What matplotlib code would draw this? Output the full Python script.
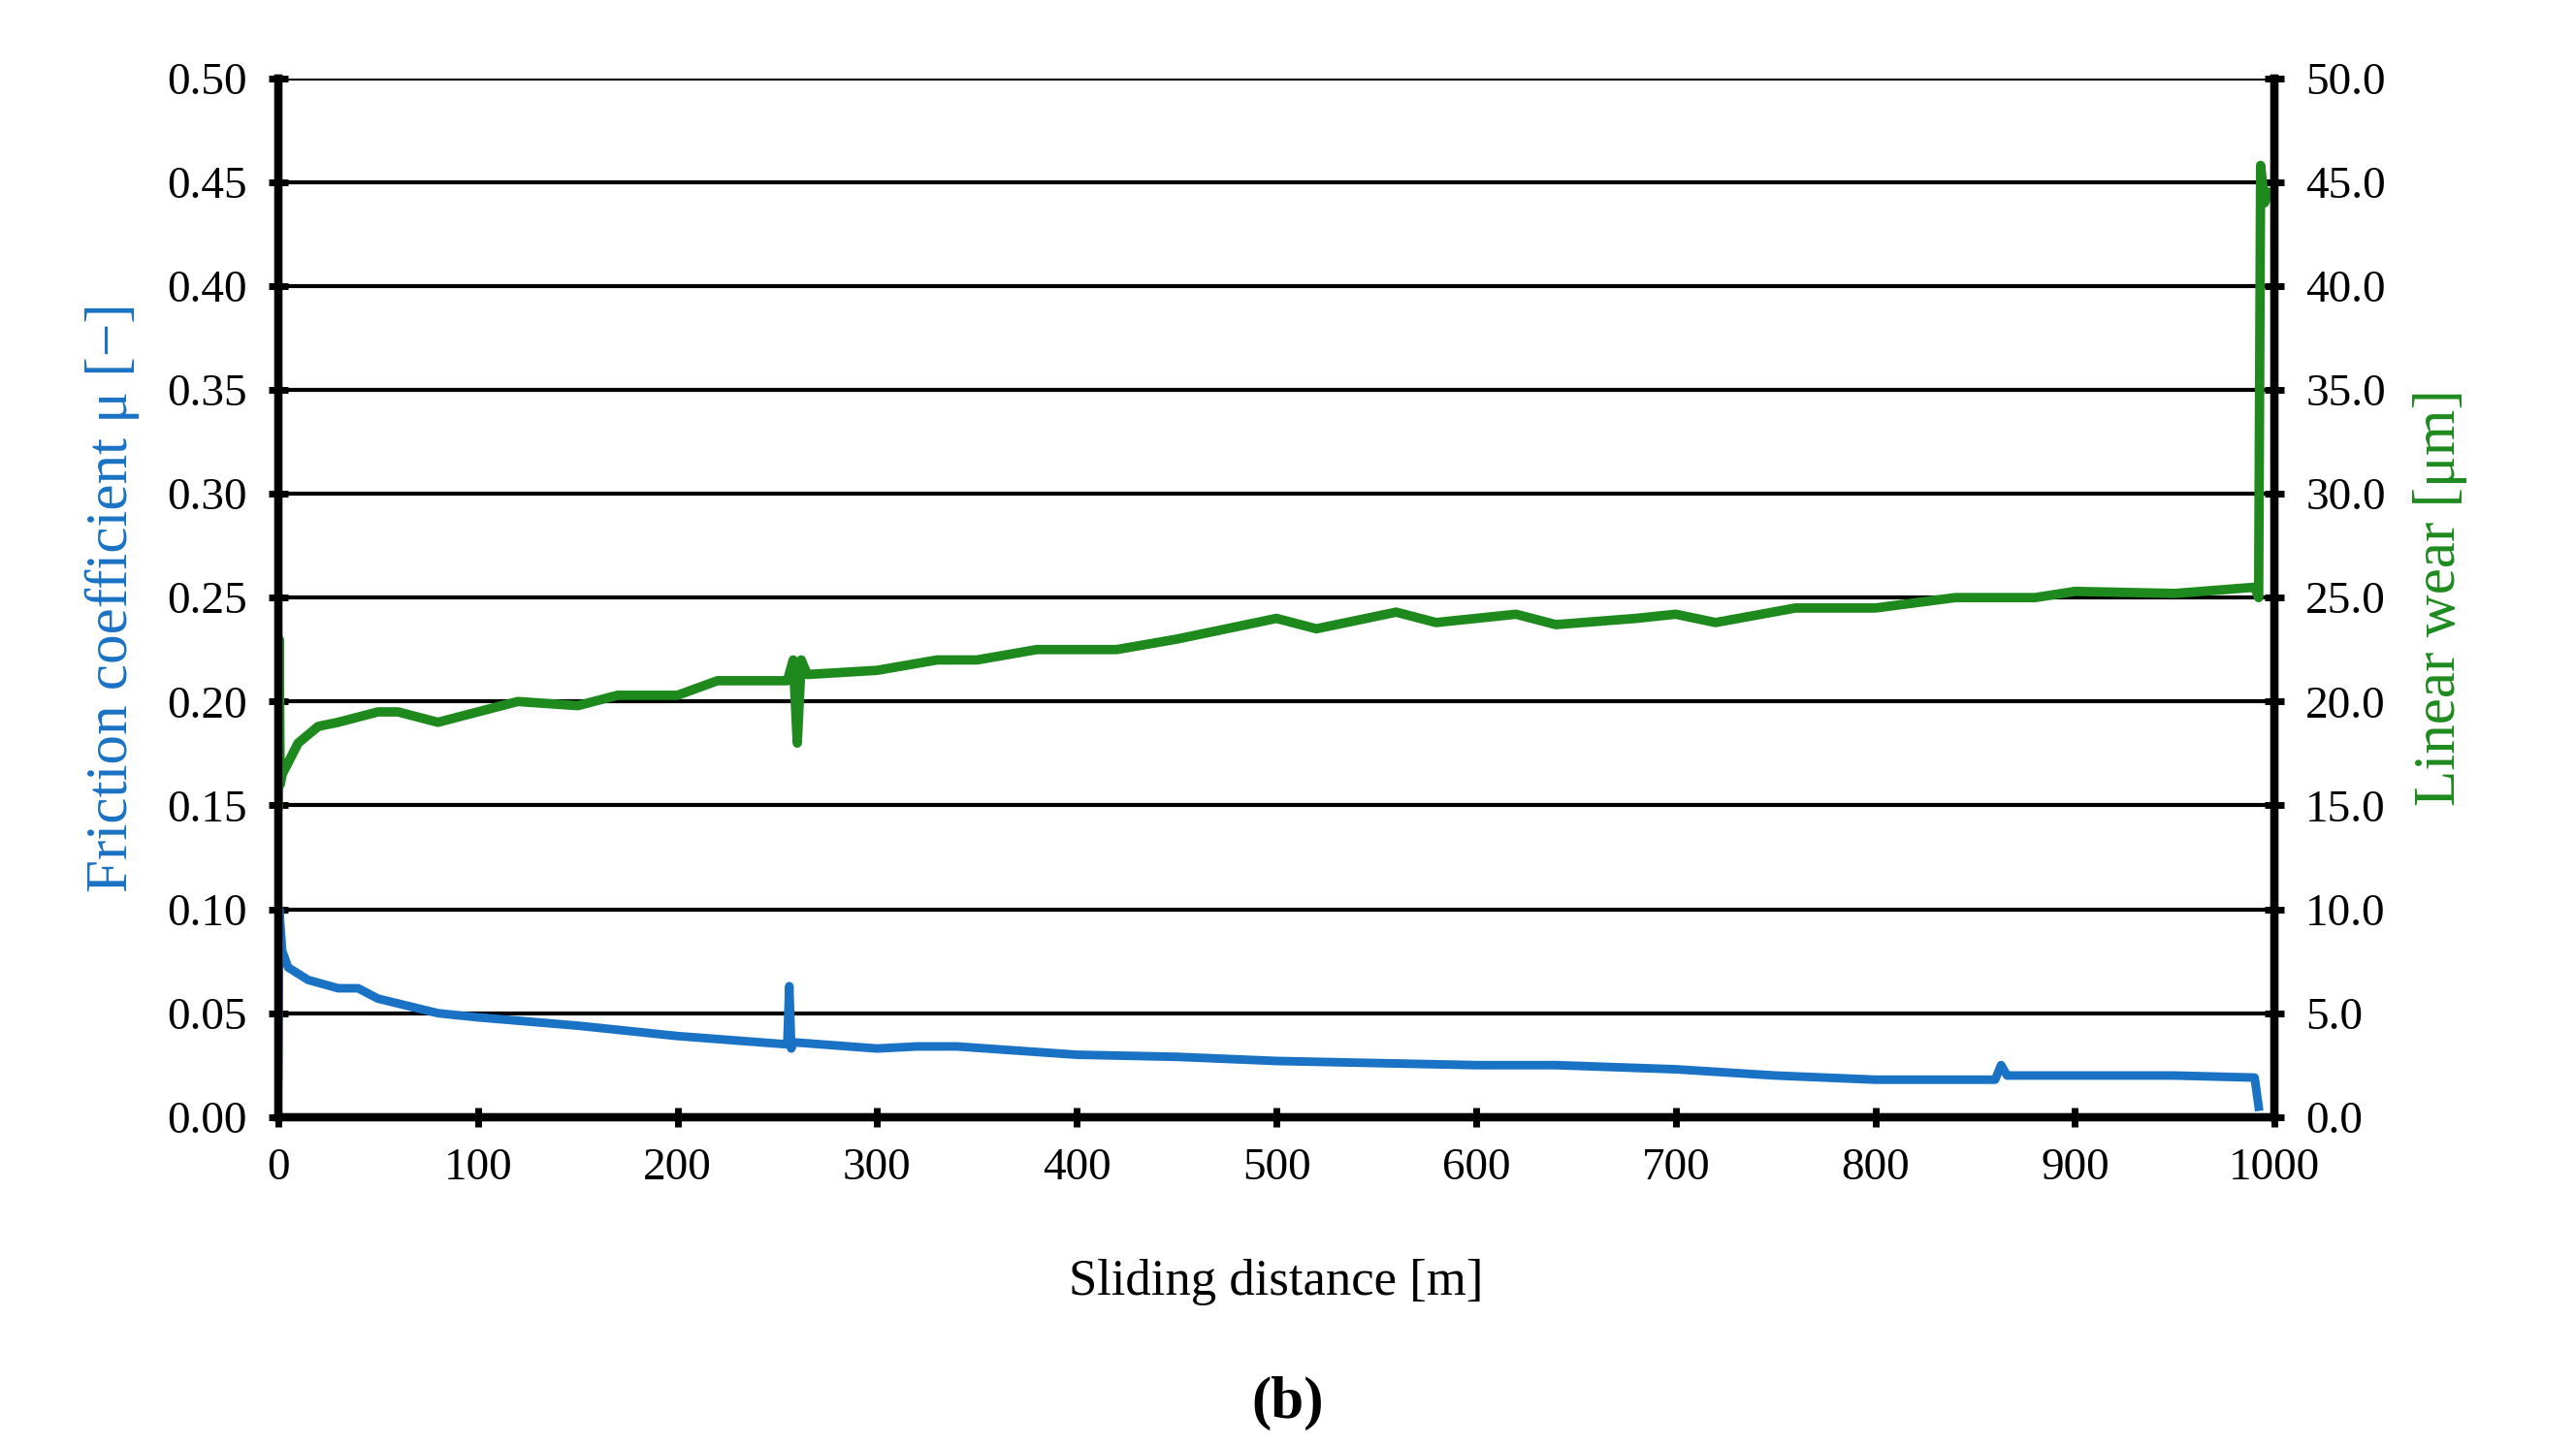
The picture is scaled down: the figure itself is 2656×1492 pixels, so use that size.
import matplotlib.pyplot as plt

# friction coefficient (left axis)
mu_x = [0, 0.5, 2, 5, 15, 30, 40, 50, 80, 100, 150, 200, 255, 256, 257, 258, 300, 320, 340,
        400, 450, 500, 600, 640, 700, 750, 800, 860, 863, 866, 900, 950, 990, 992]
mu_y = [0.02, 0.1, 0.08, 0.072, 0.066, 0.062, 0.062, 0.057, 0.05, 0.048, 0.044, 0.039, 0.035,
        0.063, 0.033, 0.036, 0.033, 0.034, 0.034, 0.03, 0.029, 0.027, 0.025, 0.025, 0.023,
        0.02, 0.018, 0.018, 0.025, 0.02, 0.02, 0.02, 0.019, 0.005]

# linear wear (right axis)
w_x = [0, 0.5, 1, 2, 10, 20, 30, 50, 60, 80, 100, 120, 150, 170, 200, 220, 255, 258, 260, 262,
       265, 300, 330, 350, 380, 420, 450, 500, 520, 560, 580, 620, 640, 680, 700, 720, 760, 800,
       840, 880, 900, 950, 990, 992, 993, 995, 997]
w_y = [15, 23, 16, 16.5, 18, 18.8, 19, 19.5, 19.5, 19, 19.5, 20, 19.8, 20.3, 20.3, 21, 21, 22,
       18, 22, 21.3, 21.5, 22, 22, 22.5, 22.5, 23, 24, 23.5, 24.3, 23.8, 24.2, 23.7, 24, 24.2,
       23.8, 24.5, 24.5, 25, 25, 25.3, 25.2, 25.5, 25, 45.8, 44, 44.5]

plt.rcParams['font.family'] = ['Liberation Serif', 'DejaVu Serif']
blue = '#1a72c4'
green = '#1e8a1e'

fig = plt.figure(figsize=(13.28, 7.46), dpi=200)
ax = fig.add_axes([0.108, 0.228, 0.775, 0.718])
ax2 = ax.twinx()

ax.plot(mu_x, mu_y, color=blue, lw=3.2)
ax2.plot(w_x, w_y, color=green, lw=3.5)

ax.set_xlim(0, 1000)
ax.set_ylim(0, 0.5)
ax2.set_ylim(0, 50)
ax.set_xticks(range(0, 1001, 100))
ax.set_yticks([i * 0.05 for i in range(11)])
ax.set_yticklabels([f'{i * 0.05:.2f}' for i in range(11)])
ax2.set_yticks(range(0, 51, 5))
ax2.set_yticklabels([f'{v:.1f}' for v in range(0, 51, 5)])
ax.grid(axis='y', color='black', lw=1.5)

for a in (ax, ax2):
    a.spines['top'].set_visible(False)
    for s in ('left', 'right', 'bottom'):
        a.spines[s].set_linewidth(3)
    a.tick_params(labelsize=17, width=2.5, length=7, direction='inout', pad=8)

ax.set_xlabel('Sliding distance [m]', fontsize=19, labelpad=26)
ax.set_ylabel('Friction coefficient μ [−]', fontsize=22, color=blue, labelpad=10)
ax2.set_ylabel('Linear wear [μm]', fontsize=22, color=green, labelpad=10)

fig.text(0.5, 0.02, '(b)', ha='center', fontsize=22, fontweight='bold')
fig.savefig('out.png')
